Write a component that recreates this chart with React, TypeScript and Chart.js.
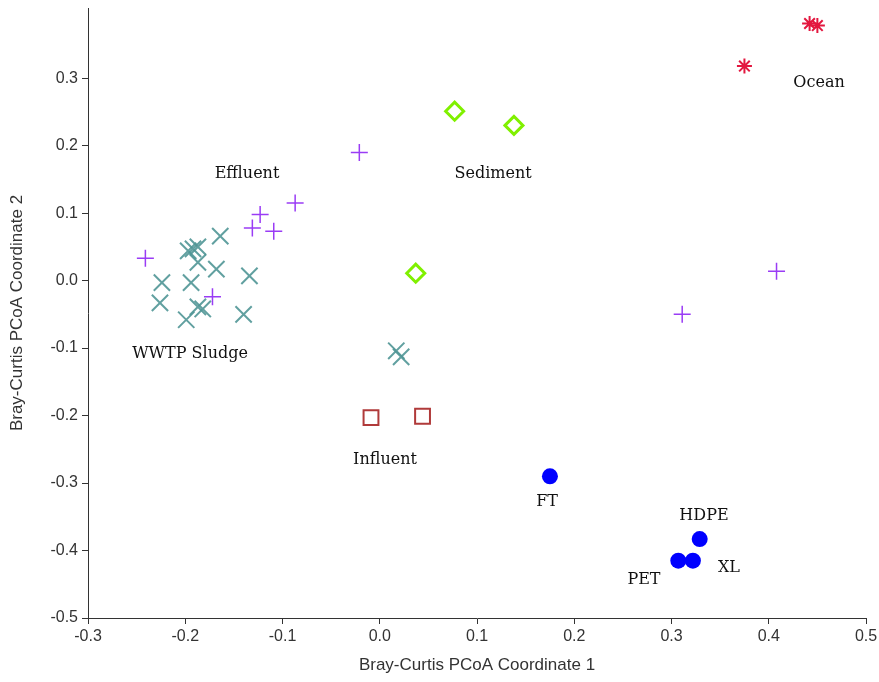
import React, { useEffect, useRef } from 'react';
import { Chart, registerables } from 'chart.js';

Chart.register(...registerables);

// Axis ticks
const xTickValues = [-0.3, -0.2, -0.1, 0.0, 0.1, 0.2, 0.3, 0.4, 0.5];
const yTickValues = [-0.5, -0.4, -0.3, -0.2, -0.1, 0.0, 0.1, 0.2, 0.3];

// Ocean (red asterisks)
const oceanX = [0.442, 0.450, 0.375];
const oceanY = [0.381, 0.378, 0.318];

// Sediment (green diamonds)
const sedimentX = [0.077, 0.138, 0.037];
const sedimentY = [0.251, 0.230, 0.011];

// Effluent (purple plus)
const effluentX = [-0.241, -0.021, -0.087, -0.123, -0.131, -0.109, -0.172, 0.311, 0.408];
const effluentY = [0.033, 0.190, 0.115, 0.098, 0.078, 0.073, -0.024, -0.050, 0.014];

// WWTP Sludge (teal x)
const sludgeX = [-0.164, -0.197, -0.192, -0.187, -0.187, -0.168, -0.134, -0.224, -0.194, -0.226, -0.187, -0.182, -0.199, -0.140, 0.017, 0.022];
const sludgeY = [0.066, 0.044, 0.047, 0.050, 0.027, 0.017, 0.007, -0.003, -0.003, -0.033, -0.039, -0.042, -0.058, -0.050, -0.104, -0.113];

// Influent (brown squares)
const influentX = [-0.009, 0.044];
const influentY = [-0.203, -0.201];

// Plastics (blue dots): FT, HDPE, PET, XL
const plasticX = [0.175, 0.329, 0.307, 0.322];
const plasticY = [-0.290, -0.383, -0.415, -0.415];

// Group labels (anchored in data coordinates)
const labelTexts = ['Ocean', 'Sediment', 'Effluent', 'WWTP Sludge', 'Influent', 'FT', 'HDPE', 'PET', 'XL'];
const labelX = [0.4517, 0.1165, -0.1365, -0.1951, 0.0054, 0.172, 0.3334, 0.2717, 0.3591];
const labelY = [0.2956, 0.1607, 0.1607, -0.1059, -0.263, -0.325, -0.346, -0.441, -0.423];

const toPoints = (xs: number[], ys: number[]) => xs.map((x, i) => ({ x, y: ys[i] }));

const labelPlugin = {
  id: 'groupLabels',
  afterDatasetsDraw(chart: any) {
    const { ctx, scales } = chart;
    ctx.save();
    ctx.font = '16px "DejaVu Serif"';
    ctx.fillStyle = '#111111';
    ctx.textAlign = 'center';
    ctx.textBaseline = 'middle';
    labelTexts.forEach((t, i) => {
      ctx.fillText(t, scales.x.getPixelForValue(labelX[i]), scales.y.getPixelForValue(labelY[i]) + 2);
    });
    ctx.restore();
  },
};

const tickFont = { family: '"Liberation Sans", Arial, sans-serif', size: 16 };
const titleFont = { family: '"Liberation Sans", Arial, sans-serif', size: 17 };
const axisColor = '#333333';

export default function App() {
  const ref = useRef<HTMLCanvasElement | null>(null);

  useEffect(() => {
    if (!ref.current) return;
    const chart = new Chart(ref.current, {
      type: 'scatter',
      data: {
        datasets: [
          {
            label: 'Effluent',
            data: toPoints(effluentX, effluentY),
            pointStyle: 'cross',
            pointRadius: 8.5,
            borderColor: '#9a3cf5',
            backgroundColor: '#9a3cf5',
            borderWidth: 1.5,
          },
          {
            label: 'Ocean',
            data: toPoints(oceanX, oceanY),
            pointStyle: 'star',
            pointRadius: 7.5,
            borderColor: '#e3173f',
            backgroundColor: '#e3173f',
            borderWidth: 2,
          },
          {
            label: 'Sediment',
            data: toPoints(sedimentX, sedimentY),
            pointStyle: 'rectRot',
            pointRadius: 9,
            borderColor: '#80f000',
            backgroundColor: 'rgba(255,255,255,0)',
            borderWidth: 3,
          },
          {
            label: 'Influent',
            data: toPoints(influentX, influentY),
            pointStyle: 'rect',
            pointRadius: 10.5,
            borderColor: '#b03a3a',
            backgroundColor: 'rgba(255,255,255,0)',
            borderWidth: 2,
          },
          {
            label: 'Plastics',
            data: toPoints(plasticX, plasticY),
            pointStyle: 'circle',
            pointRadius: 8,
            borderColor: '#0000ff',
            backgroundColor: '#0000ff',
            borderWidth: 0,
          },
          {
            label: 'WWTP Sludge',
            data: toPoints(sludgeX, sludgeY),
            pointStyle: 'crossRot',
            pointRadius: 11.5,
            borderColor: 'rgba(80,150,150,0.9)',
            backgroundColor: 'rgba(80,150,150,0.9)',
            borderWidth: 2,
          },
        ],
      },
      options: {
        animation: false,
        responsive: true,
        maintainAspectRatio: false,
        layout: { autoPadding: false, padding: { top: 8, right: 13, bottom: 0, left: 0 } },
        plugins: {
          legend: { display: false },
          tooltip: { enabled: false },
        },
        scales: {
          x: {
            type: 'linear',
            min: -0.3,
            max: 0.5,
            afterBuildTicks: (scale: any) => {
              scale.ticks = xTickValues.map((v) => ({ value: v }));
            },
            afterFit: (scale: any) => {
              scale.height = 64;
              scale.paddingLeft = 0;
              scale.paddingRight = 0;
            },
            ticks: {
              font: tickFont,
              color: axisColor,
              padding: 3,
              maxRotation: 0,
              autoSkip: false,
              callback: (v: any) => Number(v).toFixed(1),
            },
            grid: { drawOnChartArea: false, drawTicks: true, tickLength: 6, color: axisColor },
            border: { display: true, color: axisColor, width: 1 },
            title: {
              display: true,
              text: 'Bray-Curtis PCoA Coordinate 1',
              font: titleFont,
              color: axisColor,
              padding: { top: 0, bottom: 6 },
            },
          },
          y: {
            type: 'linear',
            min: -0.5,
            max: 0.404,
            afterBuildTicks: (scale: any) => {
              scale.ticks = yTickValues.map((v) => ({ value: v }));
            },
            afterFit: (scale: any) => {
              scale.width = 88;
              scale.paddingTop = 0;
              scale.paddingBottom = 0;
            },
            ticks: {
              font: tickFont,
              color: axisColor,
              padding: 4,
              autoSkip: false,
              callback: (v: any) => Number(v).toFixed(1),
            },
            grid: { drawOnChartArea: false, drawTicks: true, tickLength: 6, color: axisColor },
            border: { display: true, color: axisColor, width: 1 },
            title: {
              display: true,
              text: 'Bray-Curtis PCoA Coordinate 2',
              font: titleFont,
              color: axisColor,
              padding: { top: 7, bottom: 0 },
            },
          },
        },
      },
      plugins: [labelPlugin],
    });
    return () => chart.destroy();
  }, []);

  return (
    <div style={{ position: 'fixed', left: 0, top: 0, width: 879, height: 682 }}>
      <canvas ref={ref} />
    </div>
  );
}
